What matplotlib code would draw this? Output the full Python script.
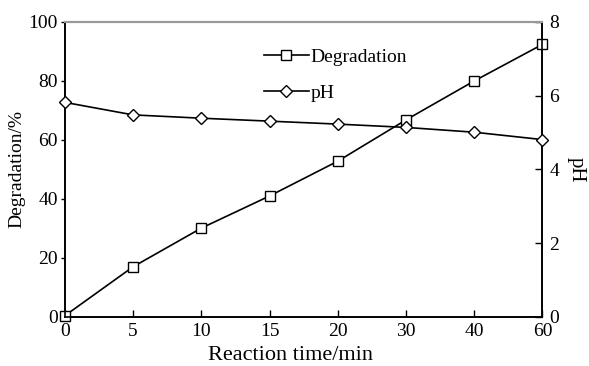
import matplotlib
matplotlib.use("Agg")
import matplotlib.pyplot as plt
import numpy as np

# data
time_labels = ["0", "5", "10", "15", "20", "30", "40", "60"]
degradation = [0.4, 17.0, 30.1, 41.0, 52.8, 66.8, 80.0, 92.4]
ph_values = [5.82, 5.48, 5.39, 5.31, 5.23, 5.14, 5.01, 4.81]

plt.rcParams['font.family'] = ['Liberation Serif', 'DejaVu Serif']
plt.rcParams['font.size'] = 14

fig, ax = plt.subplots(figsize=(5.89, 3.66), dpi=100)
fig.subplots_adjust(left=0.11, right=0.921, top=0.94, bottom=0.134)

x = np.arange(len(time_labels))
l1, = ax.plot(x, degradation, color="black", lw=1.2, marker="s", ms=7.5,
              mfc="white", mec="black", mew=1.0, label="Degradation",
              zorder=3, clip_on=False)
ax2 = ax.twinx()
l2, = ax2.plot(x, ph_values, color="black", lw=1.2, marker="D", ms=6.5,
               mfc="white", mec="black", mew=1.0, label="pH",
               zorder=3, clip_on=False)

ax.set_xlim(0, len(time_labels) - 1)
ax.set_ylim(0, 100)
ax2.set_ylim(0, 8)
ax.set_xticks(x)
ax.set_xticklabels(time_labels)
ax.set_yticks(np.arange(0, 101, 20))
ax2.set_yticks(np.arange(0, 9, 2))

ax.tick_params(axis="x", direction="in", length=5, width=1, pad=4)
ax.tick_params(axis="y", direction="out", length=3, width=1, pad=2)
ax2.tick_params(axis="y", direction="in", length=5, width=1, pad=5)

for a in (ax, ax2):
    for s in a.spines.values():
        s.set_linewidth(1.2)
    a.spines["top"].set_color("#999999")
    a.spines["top"].set_linewidth(1.5)

ax.set_xlabel("Reaction time/min", fontsize=16)
ax.xaxis.set_label_coords(0.473, -0.1)
ax.set_ylabel("Degradation/%", labelpad=2)
ax2.set_ylabel("pH", rotation=270, fontsize=15, labelpad=19)

ax.legend(handles=[l1, l2], loc="upper left", bbox_to_anchor=(0.38, 0.97),
          frameon=False, handlelength=2.3, handletextpad=0.1, labelspacing=0.95,
          fontsize=14)

fig.savefig("out.png", dpi=100)
